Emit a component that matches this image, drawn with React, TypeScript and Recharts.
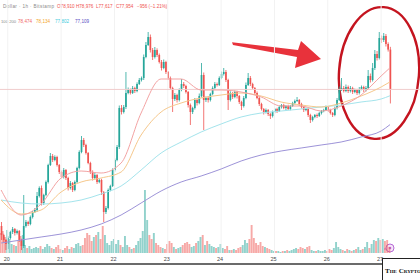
import React from 'react';
import {
  ComposedChart,
  XAxis,
  YAxis,
  Bar,
  Line,
  ReferenceLine,
  Customized,
} from 'recharts';

// ---- Hourly BTC/USD candles (Bitstamp), 19th 21:00 through 27th 05:00 ----
const dayLabels = ['20', '21', '22', '23', '24', '25', '26', '27'];
const firstMidnight = 3; // candle index of the 20th, 00:00
const hoursPerDay = 24;
const rightPadCandles = 13; // empty hours to the right of the last candle

const firstOpen = 74676;

const closes = [
  74460, 74340, 74244, 74388, 74532, 74604, 74508, 74556, 74340, 74196,
  74676, 74772, 74724, 74892, 75012, 75060, 75396, 75588, 75228, 75420,
  75732, 76140, 76356, 76260, 76332, 76140, 75972, 75852, 76020, 75828,
  75588, 75708, 75540, 75732, 76068, 76452, 76740, 76620, 76428, 76188,
  75972, 75828, 75900, 75732, 75780, 75492, 75012, 75108, 75540, 75636,
  76020, 76260, 76572, 77508, 77412, 77532, 77868, 77940, 77868, 77988,
  77916, 78084, 78180, 78228, 78732, 79020, 79212, 78900, 78732, 78900,
  78780, 78612, 78468, 78612, 78372, 78228, 77988, 77724, 77820, 77700,
  77940, 78084, 78036, 77892, 77580, 77412, 77508, 77700, 77628, 77796,
  78300, 77700, 77748, 77700, 77844, 77988, 78084, 78060, 78228, 78324,
  78372, 78180, 77700, 77868, 77772, 77892, 77796, 77652, 77556, 77748,
  78060, 78228, 78084, 77988, 77868, 77748, 77604, 77484, 77412, 77460,
  77364, 77316, 77412, 77484, 77436, 77532, 77580, 77508, 77556, 77484,
  77556, 77628, 77676, 77700, 77604, 77532, 77460, 77484, 77340, 77220,
  77292, 77340, 77316, 77388, 77436, 77460, 77532, 77460, 77388, 77340,
  77508, 77700, 77964, 77988, 77916, 78012, 77916, 77988, 77892, 77940,
  77868, 77964, 78012, 77940, 77988, 78276, 78180, 78468, 78804, 78708,
  79188, 79140, 79236, 79044, 78910, 77954,
];

// wick lengths above the body top / below the body bottom (USD)
const upperWicks = [
  96, 30, 24, 40, 30, 48, 24, 36, 24, 30,
  744, 48, 30, 36, 24, 48, 96, 40, 60, 30,
  36, 30, 72, 48, 40, 30, 24, 36, 48, 24,
  30, 48, 24, 36, 30, 40, 96, 48, 30, 24,
  30, 40, 48, 24, 36, 30, 24, 48, 36, 30,
  40, 36, 48, 60, 72, 48, 504, 60, 36, 48,
  30, 40, 48, 36, 60, 72, 120, 60, 48, 72,
  40, 36, 48, 60, 30, 24, 36, 30, 48, 30,
  40, 120, 48, 30, 24, 36, 30, 48, 36, 60,
  288, 60, 36, 48, 30, 40, 48, 36, 40, 60,
  96, 48, 30, 40, 24, 36, 30, 24, 30, 48,
  60, 120, 48, 30, 24, 36, 24, 30, 24, 36,
  24, 30, 36, 24, 30, 36, 24, 30, 24, 30,
  24, 30, 36, 72, 24, 30, 24, 36, 24, 30,
  30, 24, 36, 30, 24, 30, 36, 24, 30, 24,
  36, 48, 60, 240, 48, 60, 36, 48, 30, 36,
  30, 48, 36, 30, 48, 144, 60, 120, 96, 72,
  144, 60, 72, 48, 40, 66,
];

const lowerWicks = [
  120, 72, 144, 120, 36, 48, 60, 36, 48, 96,
  48, 36, 48, 30, 36, 24, 48, 36, 60, 48,
  30, 36, 24, 48, 30, 36, 48, 30, 36, 48,
  60, 36, 48, 30, 24, 36, 30, 48, 36, 30,
  48, 60, 36, 48, 30, 72, 240, 48, 36, 30,
  24, 36, 30, 48, 60, 36, 48, 30, 36, 24,
  48, 30, 24, 36, 48, 30, 24, 60, 72, 36,
  48, 36, 60, 30, 48, 36, 48, 312, 48, 60,
  36, 30, 48, 36, 60, 312, 48, 36, 60, 30,
  36, 720, 48, 60, 36, 30, 48, 36, 24, 30,
  36, 48, 240, 36, 48, 30, 60, 48, 96, 36,
  30, 24, 48, 36, 48, 30, 48, 36, 60, 36,
  48, 72, 36, 30, 48, 24, 36, 30, 48, 24,
  30, 24, 36, 24, 48, 36, 48, 30, 48, 72,
  36, 30, 48, 24, 36, 30, 24, 48, 36, 48,
  30, 36, 24, 48, 36, 30, 48, 36, 48, 30,
  48, 36, 30, 48, 36, 30, 60, 36, 48, 60,
  36, 72, 48, 60, 48, 337,
];

// traded volume per hour (BTC)
const volumes = [
  100, 110, 80, 115, 70, 45, 40, 35, 60, 85,
  90, 40, 25, 35, 20, 25, 30, 25, 35, 20,
  30, 45, 35, 25, 20, 30, 40, 20, 15, 25,
  35, 20, 30, 25, 45, 50, 35, 40, 75, 100,
  90, 60, 80, 90, 105, 70, 135, 90, 50, 40,
  60, 70, 45, 65, 40, 30, 85, 40, 30, 20,
  25, 40, 60, 75, 110, 315, 165, 90, 70, 100,
  50, 40, 30, 25, 20, 45, 60, 50, 30, 20,
  25, 30, 40, 50, 55, 45, 30, 35, 50, 60,
  80, 90, 40, 60, 45, 35, 30, 25, 30, 45,
  25, 20, 35, 15, 15, 20, 15, 25, 30, 40,
  65, 50, 70, 140, 75, 50, 40, 55, 35, 30,
  25, 20, 15, 10, 10, 10, 5, 10, 10, 15,
  10, 15, 20, 25, 20, 30, 25, 20, 30, 35,
  15, 10, 10, 15, 10, 10, 15, 10, 20, 15,
  25, 55, 30, 20, 15, 10, 20, 15, 10, 15,
  20, 30, 15, 20, 30, 55, 25, 45, 65, 60,
  75, 65, 70, 60, 65, 30,
];

// moving averages, sampled at these candle indices
const maIndex = [0, 9, 18, 27, 36, 45, 54, 63, 72, 81, 90, 99, 108, 117, 126, 135, 144, 153, 162, 171, 175];
const ma20 = [75540, 74940, 75204, 75828, 75996, 75948, 76188, 77388, 78204, 78204, 77940, 77940, 77892, 77772, 77556, 77556, 77436, 77556, 77820, 78276, 78474];
const ma50 = [75300, 74964, 75060, 75492, 75732, 75828, 75972, 76860, 77412, 77628, 77748, 77820, 77868, 77796, 77652, 77580, 77532, 77628, 77796, 78012, 78134];
const ma100 = [75300, 75228, 75204, 75228, 75300, 75444, 75636, 76020, 76428, 76692, 76932, 77124, 77292, 77388, 77436, 77484, 77532, 77580, 77652, 77724, 77802];
const ma200 = [74268, 74340, 74412, 74484, 74580, 74724, 74940, 75228, 75516, 75732, 75876, 76044, 76236, 76380, 76476, 76548, 76620, 76692, 76812, 76956, 77109];

const priceDomain = [74028, 80100];
const volumeDomain = [0, 1265];

const legendName = 'Dollar · 1h · Bitstamp';
const ohlcLabels = ['O78,910', 'H78,976', 'L77,617', 'C77,954', '−956 (−1.21%)'];
const maLegendName = '100 200';
const maLegendValues = ['78,474', '78,134', '77,802', '77,109'];

const UP = '#26a69a';
const DOWN = '#ef5350';
const VOL_UP = 'rgba(38,166,154,0.5)';
const VOL_DOWN = 'rgba(239,83,80,0.5)';
const MA_COLORS = ['#f3a3a3', '#f6c88c', '#a4e4ec', '#9d93d8'];
const MA_TEXT = ['#f06767', '#f4a62a', '#3fcbdc', '#5a4fc4'];

type Row = {
  t: number;
  open?: number;
  close?: number;
  high?: number;
  low?: number;
  range?: [number, number];
  up?: boolean;
  vol?: number;
};

const totalSlots = closes.length + rightPadCandles;
const rows: Row[] = [];
for (let i = 0; i < totalSlots; i++) {
  if (i < closes.length) {
    const open = i === 0 ? firstOpen : closes[i - 1];
    const close = closes[i];
    const high = Math.max(open, close) + upperWicks[i];
    const low = Math.min(open, close) - lowerWicks[i];
    rows.push({ t: i, open, close, high, low, range: [low, high], up: close >= open, vol: volumes[i] });
  } else {
    rows.push({ t: i });
  }
}

// moving-average rows live on their own numeric hour axis
const maRows = maIndex.map((t, j) => ({
  t,
  ma20: ma20[j],
  ma50: ma50[j],
  ma100: ma100[j],
  ma200: ma200[j],
}));
const hourDomain = [-0.5, totalSlots - 0.5];

const dayTicks = dayLabels.map((_, j) => firstMidnight + j * hoursPerDay);
const lastClose = closes[closes.length - 1];

const Candle = (props: any) => {
  const { x, y, width, height, payload } = props;
  if (!payload || payload.high == null || !isFinite(y) || !isFinite(height)) return <g />;
  const top = Math.min(y, y + height);
  const h = Math.abs(height);
  const span = payload.high - payload.low;
  const ppu = span > 0 ? h / span : 0;
  const cx = x + width / 2;
  const bTop = top + (payload.high - Math.max(payload.open, payload.close)) * ppu;
  const bBot = top + (payload.high - Math.min(payload.open, payload.close)) * ppu;
  const color = payload.up ? UP : DOWN;
  return (
    <g>
      <line x1={cx} x2={cx} y1={top} y2={top + h} stroke={color} strokeWidth={0.8} />
      <rect x={cx - 0.85} y={bTop} width={1.7} height={Math.max(0.8, bBot - bTop)} fill={color} />
    </g>
  );
};

const VolumeBar = (props: any) => {
  const { x, y, width, height, payload } = props;
  if (!payload || payload.vol == null || !isFinite(y) || !isFinite(height)) return <g />;
  const top = Math.min(y, y + height);
  const h = Math.abs(height);
  const cx = x + width / 2;
  return <rect x={cx - 0.95} y={top} width={1.9} height={h} fill={payload.up ? VOL_UP : VOL_DOWN} />;
};

const DayTick = (props: any) => {
  const { x, y, payload } = props;
  const k = payload.value - firstMidnight;
  if (k < 0 || k % hoursPerDay !== 0) return <g />;
  const label = dayLabels[k / hoursPerDay];
  if (!label) return <g />;
  return (
    <text x={x - 1} y={y + 8} textAnchor="middle" fontSize={5.5} fill="#4a4a4a">
      {label}
    </text>
  );
};

const Overlay = () => {
  const ohlcX = [57, 76, 96, 116, 137];
  const maX = [18, 36, 55, 75];
  return (
    <g>
      {/* header: symbol + last candle OHLC */}
      <text x={3} y={8} fontSize={4.6} fill="#8a8a8a" textLength={51} lengthAdjust="spacing">
        {legendName}
      </text>
      {ohlcLabels.map((s, i) => (
        <text key={s} x={ohlcX[i]} y={8} fontSize={4.6} fill={DOWN}>
          {s}
        </text>
      ))}
      {/* moving average legend */}
      <text x={1} y={23} fontSize={4.2} fill="#8a8a8a">
        {maLegendName}
      </text>
      {maLegendValues.map((s, i) => (
        <text key={s} x={maX[i]} y={23} fontSize={4.6} fill={MA_TEXT[i]}>
          {s}
        </text>
      ))}

      {/* red arrow pointing at the breakout */}
      <polygon
        points="232,42.2 298,50 301,41 321,59 295,68 297,57 233,45"
        fill="#e8323b"
      />
      {/* ring around the latest candles */}
      <ellipse
        cx={379}
        cy={73}
        rx={40}
        ry={66}
        transform="rotate(4 379 73)"
        fill="none"
        stroke="#c4141f"
        strokeWidth={2.4}
      />

      {/* event marker on the volume pane */}
      <circle cx={390} cy={248} r={4} fill="#f6e6f8" stroke="#b56ad6" strokeWidth={1} />
      <circle cx={390} cy={248} r={1.3} fill="#b56ad6" />
      <circle cx={385} cy={249} r={0.8} fill="#b56ad6" />

      {/* bottom frame line */}
      <line x1={0} x2={383} y1={264} y2={264} stroke="#3a3a3a" strokeWidth={1.5} />

      {/* publisher badge */}
      <rect x={382.5} y={258.5} width={45} height={25} fill="#ffffff" stroke="#222" strokeWidth={1} />
      <text
        x={385}
        y={272.5}
        fontSize={7}
        fontWeight="bold"
        fontFamily="'Liberation Serif', 'DejaVu Serif', serif"
        fill="#111"
        style={{ fontVariant: 'small-caps' }}
      >
        The Crypto
      </text>
    </g>
  );
};

export default function App() {
  return (
    <div style={{ position: 'absolute', left: 0, top: 0, width: 420, height: 280, background: '#fff' }}>
      <ComposedChart
        width={420}
        height={280}
        data={rows}
        margin={{ top: 0, right: 0, bottom: 0, left: 0 }}
        barCategoryGap={0}
        barGap={0}
        style={{ fontFamily: "'Liberation Sans', Arial, sans-serif" }}
      >
        <XAxis
          dataKey="t"
          interval={0}
          height={27}
          tickLine={false}
          axisLine={false}
          tickSize={0}
          tickMargin={0}
          tick={<DayTick />}
        />
        <XAxis xAxisId="hours" type="number" dataKey="t" domain={hourDomain} hide allowDataOverflow />
        <YAxis yAxisId="price" domain={priceDomain} hide allowDataOverflow />
        <YAxis yAxisId="vol" domain={volumeDomain} hide allowDataOverflow />

        {dayTicks.map((t) => (
          <ReferenceLine key={t} x={t} yAxisId="price" stroke="#f2f2f2" strokeWidth={1} />
        ))}
        <ReferenceLine y={lastClose} yAxisId="price" stroke="#f0cccc" strokeWidth={1} />

        <Bar dataKey="vol" yAxisId="vol" shape={<VolumeBar />} isAnimationActive={false} />

        <Line data={maRows} xAxisId="hours" dataKey="ma200" yAxisId="price" type="monotone" stroke={MA_COLORS[3]} strokeWidth={1} dot={false} activeDot={false} isAnimationActive={false} />
        <Line data={maRows} xAxisId="hours" dataKey="ma100" yAxisId="price" type="monotone" stroke={MA_COLORS[2]} strokeWidth={1} dot={false} activeDot={false} isAnimationActive={false} />
        <Line data={maRows} xAxisId="hours" dataKey="ma50" yAxisId="price" type="monotone" stroke={MA_COLORS[1]} strokeWidth={1} dot={false} activeDot={false} isAnimationActive={false} />
        <Line data={maRows} xAxisId="hours" dataKey="ma20" yAxisId="price" type="monotone" stroke={MA_COLORS[0]} strokeWidth={1} dot={false} activeDot={false} isAnimationActive={false} />

        <Bar dataKey="range" yAxisId="price" shape={<Candle />} isAnimationActive={false} />

        <Customized component={<Overlay />} />
      </ComposedChart>
    </div>
  );
}
